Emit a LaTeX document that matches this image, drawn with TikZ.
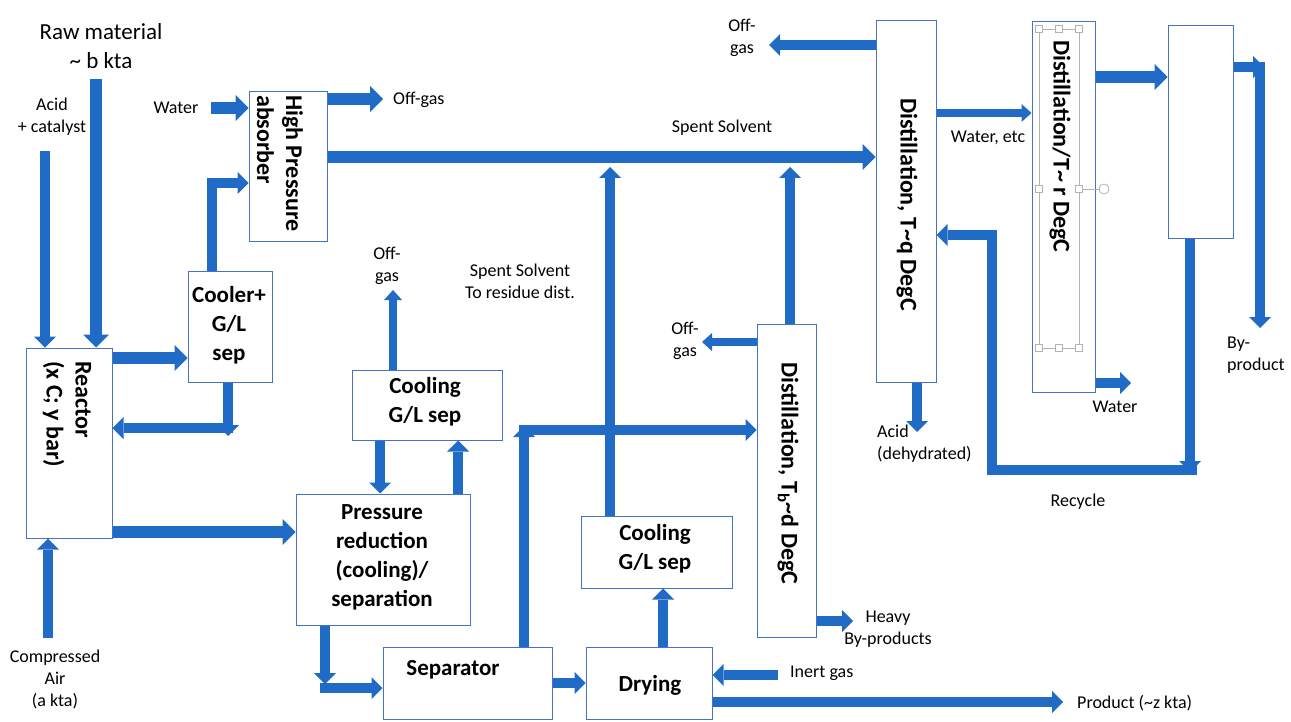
\documentclass[tikz,border=0pt]{standalone}
\usepackage{fontspec}
\setmainfont{Carlito}
\usetikzlibrary{arrows.meta}
\definecolor{flowblue}{HTML}{1F6BC5}
\definecolor{boxblue}{HTML}{4472C4}

\begin{document}
\begin{tikzpicture}[
    x=1pt, y=-1pt,
    line join=miter,
    procbox/.style={draw=boxblue, line width=1pt, fill=white, inner sep=0pt},
    boxtext/.style={font=\fontsize{23}{29}\selectfont\bfseries, align=center, inner sep=0pt},
    columntext/.style={font=\fontsize{24}{29}\selectfont\bfseries, rotate=-90, anchor=west, inner sep=0pt},
    lbl/.style={font=\fontsize{18}{22}\selectfont, align=center, inner sep=0pt},
    bigflow/.style={draw=flowblue, line width=12pt, -{Triangle[length=13pt,width=26pt,line width=0pt]}},
    flow/.style={draw=flowblue, line width=10pt, -{Triangle[length=11pt,width=22pt,line width=0pt]}},
    thinflow/.style={draw=flowblue, line width=8pt, -{Triangle[length=10pt,width=18pt,line width=0pt]}}
]
    \useasboundingbox (0,0) rectangle (1291,722);

    % Process units
    \node[procbox, minimum width=86pt, minimum height=190pt] (reactor) at (69,443) {};
    \node[procbox, minimum width=84pt, minimum height=110pt] (cooler) at (230,327) {};
    \node[procbox, minimum width=78pt, minimum height=150pt] (hpa) at (288,167) {};
    \node[procbox, minimum width=150pt, minimum height=70pt] (coolA) at (427,405) {};
    \node[procbox, minimum width=174pt, minimum height=131pt] (pressred) at (383,559.5) {};
    \node[procbox, minimum width=169pt, minimum height=72pt] (separator) at (467.5,683) {};
    \node[procbox, minimum width=126pt, minimum height=72pt] (drying) at (649,683) {};
    \node[procbox, minimum width=151pt, minimum height=72pt] (coolB) at (656.5,552) {};
    \node[procbox, minimum width=59pt, minimum height=313pt] (distB) at (786.5,480.5) {};
    \node[procbox, minimum width=60pt, minimum height=361pt] (distQ) at (906,201.5) {};
    \node[procbox, minimum width=63pt, minimum height=370pt] (distR) at (1063.5,207) {};
    \node[procbox, minimum width=65pt, minimum height=213pt] (rightbox) at (1200.5,132.5) {};

    % Unit labels
    \node[columntext, align=left] (reactor-txt) at (67,361) {Reactor\\(x C; y bar)};
    \node[columntext, align=left] (hpa-txt) at (280,95) {High Pressure\\absorber};
    \node[boxtext] (cooler-txt) at (229,325) {Cooler+\\G/L\\sep};
    \node[boxtext] (coolA-txt) at (425,402) {Cooling\\G/L sep};
    \node[boxtext] (pressred-txt) at (382,557) {Pressure\\reduction\\(cooling)/\\separation};
    \node[boxtext] (separator-txt) at (453,670) {Separator};
    \node[boxtext] (drying-txt) at (650,685) {Drying};
    \node[boxtext] (coolB-txt) at (655,549) {Cooling\\G/L sep};
    \node[columntext] (distB-txt) at (788,362) {Distillation, T\textsubscript{b}\textasciitilde d DegC};
    \node[columntext] (distQ-txt) at (907,98) {Distillation, T\textasciitilde q DegC};
    \node[columntext] (distR-txt) at (1060,40) {Distillation/T\textasciitilde\ r DegC};

    % Text box handles on the last column
    \draw[gray!60, line width=0.8pt] (1039,29) rectangle (1079,348);
    \draw[gray!60, line width=0.8pt] (1079,189) -- (1099,189);
    \draw[gray!60, line width=0.8pt, fill=white] (1104,189) circle (5);
    \foreach \hx/\hy in {1039/29, 1059/29, 1079/29, 1039/189, 1079/189, 1039/348, 1059/348, 1079/348}
        \draw[gray!60, line width=0.8pt, fill=white] (\hx-3.5,\hy-3.5) rectangle (\hx+3.5,\hy+3.5);

    % Stream labels
    \node[font=\fontsize{23}{29}\selectfont, align=center, inner sep=0pt] (raw-lbl) at (101,46) {Raw material\\\textasciitilde\ b kta};
    \node[lbl] (acid-lbl) at (52,117) {Acid\\+ catalyst};
    \node[lbl] (air-lbl) at (55,679) {Compressed\\Air\\(a kta)};
    \node[lbl] (water-lbl) at (176,108) {Water};
    \node[lbl, anchor=west] (offgas-hpa) at (393,100) {Off-gas};
    \node[lbl] (offgas-coolA) at (387,266) {Off-\\gas};
    \node[lbl] (spent-lbl) at (722,128) {Spent Solvent};
    \node[lbl] (residue-lbl) at (520,281) {Spent Solvent\\To residue dist.};
    \node[lbl] (offgas-distB) at (685,341) {Off-\\gas};
    \node[lbl] (offgas-distQ) at (742,38) {Off-\\gas};
    \node[lbl] (wateretc-lbl) at (988,138) {Water, etc};
    \node[lbl, anchor=west, align=left] (acid-out) at (877,444) {Acid\\(dehydrated)};
    \node[lbl] (water-out) at (1115,407) {Water};
    \node[lbl, anchor=west, align=left] (byprod-lbl) at (1227,355) {By-\\product};
    \node[lbl] (recycle-lbl) at (1078,502) {Recycle};
    \node[lbl] (heavy-lbl) at (888,629) {Heavy\\By-products};
    \node[lbl, anchor=west] (inert-lbl) at (790,673) {Inert gas};
    \node[lbl, anchor=west] (product-lbl) at (1077,703) {Product (\textasciitilde z kta)};

    % Free ends of the streams
    \coordinate (raw-in) at (96,79);
    \coordinate (acid-in) at (45,151);
    \coordinate (air-in) at (48,638);
    \coordinate (water-in) at (211,108);
    \coordinate (inert-in) at (778,675);
    \coordinate (offgas-hpa-end) at (383,99);
    \coordinate (offgas-coolA-end) at (393,290);
    \coordinate (offgas-distB-end) at (702,342);
    \coordinate (offgas-distQ-end) at (769,45);
    \coordinate (join-a) at (610,167);
    \coordinate (join-b) at (790,167);
    \coordinate (heavy-end) at (853,621);
    \coordinate (product-end) at (1063,702);
    \coordinate (acid-end) at (917,432);
    \coordinate (water-end) at (1131,383);
    \coordinate (byprod-end) at (1260,328);
    \coordinate (rec-corner) at (1190,472);

    % Feeds to the reactor
    \draw[bigflow] (raw-in) -- (raw-in |- reactor.north);
    \draw[flow] (acid-in) -- (acid-in |- reactor.north);
    \draw[flow] (air-in) -- (air-in |- reactor.south);

    % Reactor loop
    \draw[bigflow] (reactor.east |- 0,358) -- (cooler.west |- 0,358);
    \draw[flow] (cooler.south -| 228,0) -- (228,436);
    \draw[flow] (233,428) -- (reactor.east |- 0,428);
    \draw[flow] (cooler.north -| 212,0) |- (hpa.west |- 0,183);
    \draw[bigflow] (water-in) -- (hpa.west |- water-in);
    \draw[bigflow] (hpa.east |- 0,99) -- (offgas-hpa-end);
    \draw[bigflow] (hpa.east |- 0,157) -- (distQ.west |- 0,157);
    \draw[bigflow] (reactor.east |- 0,532) -- (pressred.west |- 0,532);

    % Pressure reduction and separation
    \draw[flow] (coolA.south -| 380,0) -- (pressred.north -| 380,0);
    \draw[flow] (pressred.north -| 458,0) -- (coolA.south -| 458,0);
    \draw[thinflow] (coolA.north -| 393,0) -- (offgas-coolA-end);
    \draw[flow] (pressred.south -| 325,0) -- (325,684);
    \draw[flow] (320,688) -- (separator.west |- 0,688);
    \draw[flow] (separator.north -| 524,0) -- (524,426);
    \draw[flow] (519,430) -- (distB.west |- 0,430);
    \draw[flow] (separator.east |- 0,683) -- (drying.west |- 0,683);

    % Drying
    \draw[flow] (drying.north -| 663,0) -- (coolB.south -| 663,0);
    \draw[flow] (coolB.north -| 610,0) -- (join-a);
    \draw[flow] (inert-in) -- (drying.east |- inert-in);
    \draw[flow] (drying.east |- 0,702) -- (product-end);

    % Residue distillation
    \draw[flow] (distB.north -| 790,0) -- (join-b);
    \draw[thinflow] (distB.west |- offgas-distB-end) -- (offgas-distB-end);
    \draw[flow] (distB.east |- heavy-end) -- (heavy-end);

    % Dehydration train
    \draw[flow] (distQ.west |- offgas-distQ-end) -- (offgas-distQ-end);
    \draw[thinflow] (distQ.east |- 0,113) -- (distR.west |- 0,113);
    \draw[flow] (distQ.south -| acid-end) -- (acid-end);
    \draw[bigflow] (distR.east |- 0,77) -- (rightbox.west |- 0,77);
    \draw[flow] (distR.east |- water-end) -- (water-end);
    \draw[flow] (rightbox.east |- 0,67) -- (1264,67);
    \draw[flow] (1260,62) -- (byprod-end);

    % Recycle
    \draw[flow] (rightbox.south -| rec-corner) -- (rec-corner);
    \draw[flow] (1197,470) -| (992,235) -- (distQ.east |- 0,235);
\end{tikzpicture}
\end{document}
